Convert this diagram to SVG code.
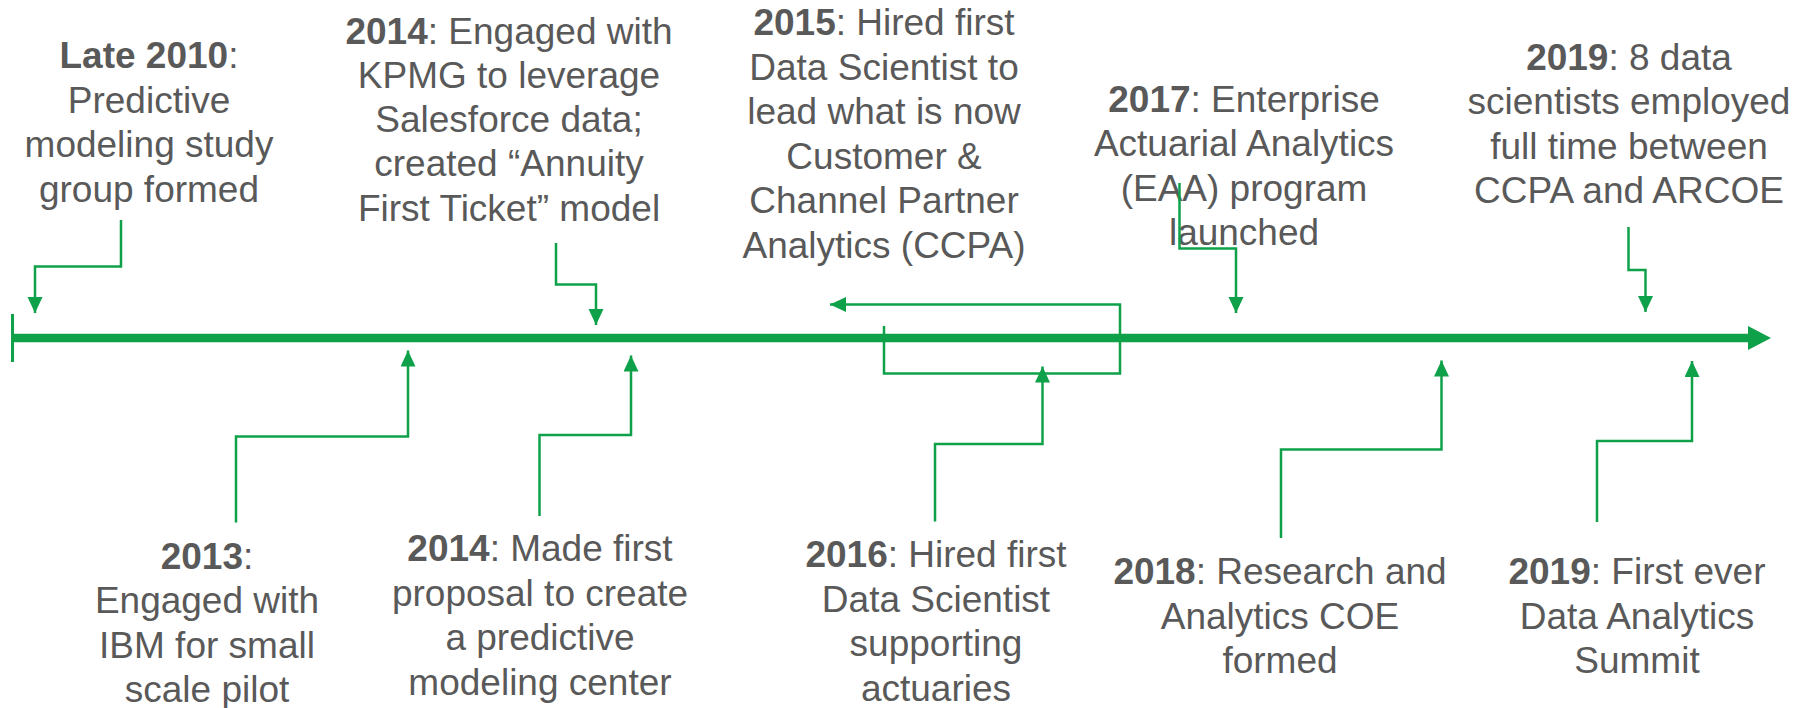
<svg xmlns="http://www.w3.org/2000/svg" width="1808" height="708" viewBox="0 0 1808 708">
  <defs>
    <style>
      .lbl { font-family: "Liberation Sans", Arial, sans-serif; font-size: 37px; fill: #595959; text-anchor: middle; }
      .yr { font-weight: bold; }
      .conn { fill: none; stroke: #0fa14a; stroke-width: 2.5; }
      .axis { fill: none; stroke: #0fa14a; stroke-width: 8.5; }
    </style>
    <marker id="tri" markerUnits="userSpaceOnUse" markerWidth="18" markerHeight="16" refX="16" refY="7.5" orient="auto">
      <path d="M0,0 L16,7.5 L0,15 Z" fill="#0fa14a"/>
    </marker>
  </defs>

  <rect width="1808" height="708" fill="#ffffff"/>

  <!-- timeline axis -->
  <g id="timeline">
    <line class="axis" x1="12" y1="338" x2="1752" y2="338"/>
    <polygon points="1748,326 1771,338 1748,350" fill="#0fa14a"/>
    <line x1="12.5" y1="314" x2="12.5" y2="362" stroke="#0fa14a" stroke-width="3"/>
  </g>

  <!-- milestones above the axis -->
  <g id="late2010">
    <text class="lbl" x="149" y="68"><tspan class="yr">Late 2010</tspan>:</text>
    <text class="lbl" x="149" y="112.5">Predictive</text>
    <text class="lbl" x="149" y="157">modeling study</text>
    <text class="lbl" x="149" y="201.5">group formed</text>
  </g>

  <g id="y2014a">
    <text class="lbl" x="509" y="43.5"><tspan class="yr">2014</tspan>: Engaged with</text>
    <text class="lbl" x="509" y="87.5">KPMG to leverage</text>
    <text class="lbl" x="509" y="132">Salesforce data;</text>
    <text class="lbl" x="509" y="176">created “Annuity</text>
    <text class="lbl" x="509" y="220.5">First Ticket” model</text>
  </g>

  <g id="y2015">
    <text class="lbl" x="884" y="35"><tspan class="yr">2015</tspan>: Hired first</text>
    <text class="lbl" x="884" y="79.5">Data Scientist to</text>
    <text class="lbl" x="884" y="124">lead what is now</text>
    <text class="lbl" x="884" y="168.5">Customer &amp;</text>
    <text class="lbl" x="884" y="213">Channel Partner</text>
    <text class="lbl" x="884" y="257.5">Analytics (CCPA)</text>
  </g>

  <g id="y2017">
    <text class="lbl" x="1244" y="111.5"><tspan class="yr">2017</tspan>: Enterprise</text>
    <text class="lbl" x="1244" y="156">Actuarial Analytics</text>
    <text class="lbl" x="1244" y="200.5">(EAA) program</text>
    <text class="lbl" x="1244" y="245">launched</text>
  </g>

  <g id="y2019a">
    <text class="lbl" x="1629" y="69.5"><tspan class="yr">2019</tspan>: 8 data</text>
    <text class="lbl" x="1629" y="114">scientists employed</text>
    <text class="lbl" x="1629" y="158.5">full time between</text>
    <text class="lbl" x="1629" y="203">CCPA and ARCOE</text>
  </g>

  <!-- milestones below the axis -->
  <g id="y2013">
    <text class="lbl" x="207" y="568.5"><tspan class="yr">2013</tspan>:</text>
    <text class="lbl" x="207" y="613">Engaged with</text>
    <text class="lbl" x="207" y="657.5">IBM for small</text>
    <text class="lbl" x="207" y="702">scale pilot</text>
  </g>

  <g id="y2014b">
    <text class="lbl" x="540" y="561"><tspan class="yr">2014</tspan>: Made first</text>
    <text class="lbl" x="540" y="605.5">proposal to create</text>
    <text class="lbl" x="540" y="650">a predictive</text>
    <text class="lbl" x="540" y="694.5">modeling center</text>
  </g>

  <g id="y2016">
    <text class="lbl" x="936" y="567"><tspan class="yr">2016</tspan>: Hired first</text>
    <text class="lbl" x="936" y="611.5">Data Scientist</text>
    <text class="lbl" x="936" y="656">supporting</text>
    <text class="lbl" x="936" y="700.5">actuaries</text>
  </g>

  <g id="y2018">
    <text class="lbl" x="1280" y="584"><tspan class="yr">2018</tspan>: Research and</text>
    <text class="lbl" x="1280" y="628.5">Analytics COE</text>
    <text class="lbl" x="1280" y="673">formed</text>
  </g>

  <g id="y2019b">
    <text class="lbl" x="1637" y="584"><tspan class="yr">2019</tspan>: First ever</text>
    <text class="lbl" x="1637" y="628.5">Data Analytics</text>
    <text class="lbl" x="1637" y="673">Summit</text>
  </g>

  <!-- elbow connectors from each label to the axis -->
  <g id="connectors">
    <path class="conn" d="M121,220 V266.5 H35 V313" marker-end="url(#tri)"/>
    <path class="conn" d="M556,243 V284.5 H596 V325" marker-end="url(#tri)"/>
    <path class="conn" d="M884,326 V373.5 H1120 V304.5 H830" marker-end="url(#tri)"/>
    <path class="conn" d="M1179.5,183 V248.5 H1236 V313" marker-end="url(#tri)"/>
    <path class="conn" d="M1628.5,227 V270 H1645.5 V312" marker-end="url(#tri)"/>
    <path class="conn" d="M236,522.5 V436.5 H408 V350.5" marker-end="url(#tri)"/>
    <path class="conn" d="M539.5,516 V435 H631 V355.5" marker-end="url(#tri)"/>
    <path class="conn" d="M935,521.5 V444 H1042.5 V366.5" marker-end="url(#tri)"/>
    <path class="conn" d="M1281,538 V449.5 H1441.5 V360.5" marker-end="url(#tri)"/>
    <path class="conn" d="M1597,522 V441 H1692 V361" marker-end="url(#tri)"/>
  </g>
</svg>
